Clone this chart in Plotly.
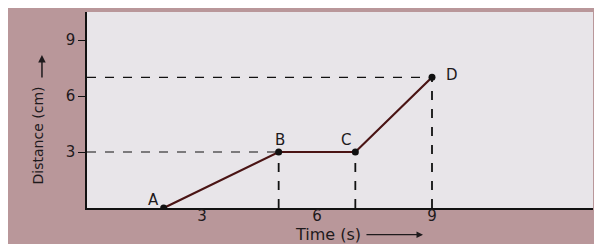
import plotly.graph_objects as go

point_labels = ["A", "B", "C", "D"]
time_s = [2, 5, 7, 9]
distance_cm = [0, 3, 3, 7]
x_ticks = [3, 6, 9]
y_ticks = [3, 6, 9]

FONT = "DejaVu Sans"
TXT = "#1e1a1c"

fig = go.Figure()

# dashed guide lines
for t, d in zip(time_s, distance_cm):
    if d > 0:
        fig.add_trace(go.Scatter(x=[t, t], y=[0, d], mode="lines",
                                 line=dict(color="#111", width=1.8, dash="dash"),
                                 hoverinfo="skip", showlegend=False))
for t, d in zip(time_s, distance_cm):
    if d > 0 and t != 7:
        fig.add_trace(go.Scatter(x=[0, t], y=[d, d], mode="lines",
                                 line=dict(color="#111", width=1.2, dash="dash"),
                                 hoverinfo="skip", showlegend=False))

fig.add_trace(go.Scatter(x=time_s, y=distance_cm, mode="lines+markers",
                         line=dict(color="#4a1414", width=2.2),
                         marker=dict(color="#111", size=7),
                         showlegend=False))

label_pos = {"A": (-0.26, 0.45), "B": (0.03, 0.62), "C": (-0.24, 0.62), "D": (0.52, 0.15)}
for lab, t, d in zip(point_labels, time_s, distance_cm):
    dx, dy = label_pos[lab]
    fig.add_annotation(x=t + dx, y=d + dy, text=lab, showarrow=False,
                       font=dict(size=15, color=TXT, family=FONT))

fig.add_annotation(x=-0.33, y=-0.5, text="0", showarrow=False,
                   font=dict(size=15, color=TXT, family=FONT))

# x-axis title with arrow
fig.add_annotation(xref="paper", yref="paper", x=0.476, y=-0.136, yanchor="middle",
                   text="Time (s)", showarrow=False,
                   font=dict(size=16, color=TXT, family=FONT))
fig.add_annotation(xref="paper", yref="paper", x=0.664, y=-0.136, text="",
                   showarrow=True, ax=-58, ay=0, arrowhead=2, arrowsize=1,
                   arrowwidth=1.3, arrowcolor=TXT)

# y-axis title with arrow
fig.add_annotation(xref="paper", yref="paper", x=-0.095, y=0.37, xanchor="center",
                   yanchor="middle", text="Distance (cm)", textangle=-90,
                   showarrow=False, font=dict(size=14, color=TXT, family=FONT))
fig.add_annotation(xref="paper", yref="paper", x=-0.089, y=0.78, text="",
                   showarrow=True, ax=0, ay=24, arrowhead=2, arrowsize=1,
                   arrowwidth=1.5, arrowcolor=TXT)

fig.update_xaxes(range=[0, 13.2], tickvals=x_ticks, showgrid=False, zeroline=False,
                 showline=True, linecolor="#111", linewidth=1.6, ticks="",
                 ticklabelstandoff=-7,
                 tickfont=dict(size=15, color=TXT, family=FONT))
fig.update_yaxes(range=[0, 10.5], tickvals=y_ticks, showgrid=False, zeroline=False,
                 showline=True, linecolor="#111", linewidth=1.6, ticks="outside",
                 ticklen=7, tickcolor="#111",
                 tickfont=dict(size=15, color=TXT, family=FONT))

fig.update_layout(width=590, height=236, margin=dict(l=79, r=5, t=4, b=36),
                  paper_bgcolor="#b9979a", plot_bgcolor="#e8e5e9",
                  font=dict(family=FONT))

fig.write_html("out.html")
